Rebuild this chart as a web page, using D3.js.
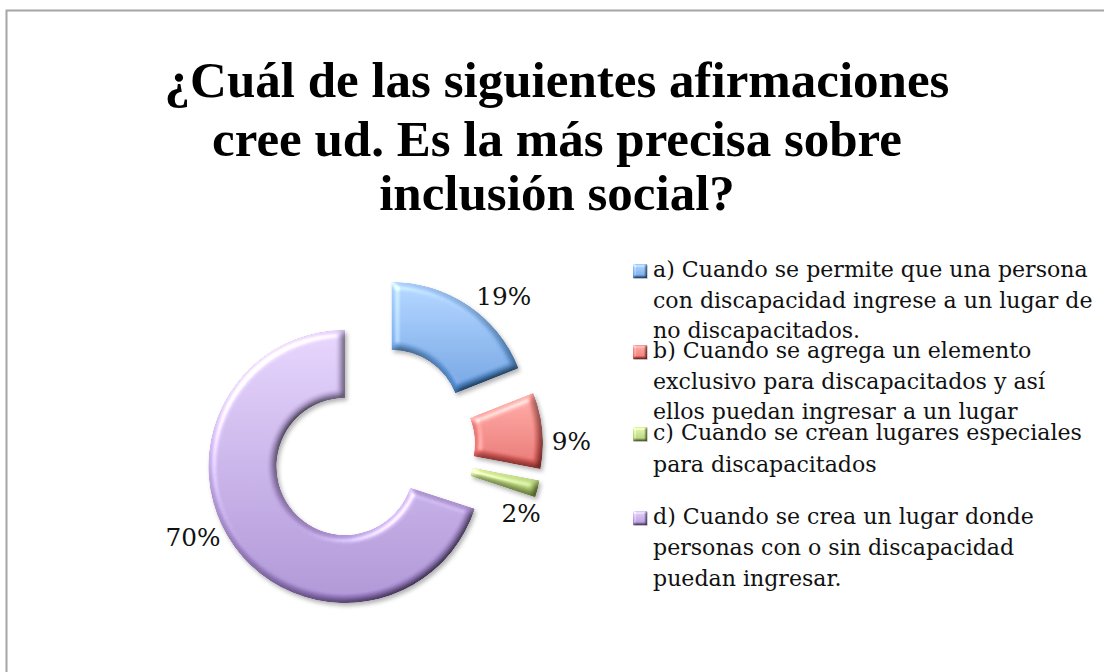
<!DOCTYPE html>
<html>
<head>
<meta charset="utf-8">
<script src="https://cdn.jsdelivr.net/npm/d3@7"></script>
<style>
  html, body { margin: 0; padding: 0; background: #fff; }
  svg { display: block; }
  .title { font-family: "Liberation Serif", serif; font-weight: bold; fill: #000; }
  .legend-text, .pct { font-family: "DejaVu Serif", serif; fill: #111; }
</style>
</head>
<body>
<div id="chart"></div>
<script>
// data
const titleLines = [
  "¿Cuál de las siguientes afirmaciones",
  "cree ud. Es la más precisa sobre",
  "inclusión social?"
];
const values = [19, 9, 2, 70];
const pctLabels = ["19%", "9%", "2%", "70%"];
const legendLines = [
  ["a) Cuando se permite que una persona", "con discapacidad ingrese a un lugar de", "no discapacitados."],
  ["b) Cuando se agrega un elemento", "exclusivo para discapacitados y así", "ellos puedan ingresar a un lugar"],
  ["c) Cuando se crean lugares especiales", "para discapacitados"],
  ["d) Cuando se crea un lugar donde", "personas con o sin discapacidad", "puedan ingresar."]
];
const colorTop = ["#a3c9f6", "#f49a95", "#dbee9f", "#d8c6f1"];
const colorBottom = ["#4e8dd3", "#d9534f", "#9bbb59", "#9a7cc6"];

// layout
const width = 1104, height = 672;
const center = { x: 372.5, y: 446.5 };
const outerR = 136.5, innerR = 68.5, explode = 34;
// label placement: [angle in degrees, radius] around the chart center
const labelPlace = [[41.3, 199], [88.7, 199], [114.2, 163], [243.2, 201]];
const legendX = 633, legendTextX = 653, legendLineWidth = 435;
const legendBaselines = [[277, 308, 338], [358, 389, 419], [440, 472], [524, 555, 586]];
const titleBaselines = [97, 156, 210];

const svg = d3.select("#chart").append("svg")
  .attr("width", width).attr("height", height);

const defs = svg.append("defs");

// bevel + shadow filter
function bevelFilter(id, blur, scale, shadow) {
  const f = defs.append("filter").attr("id", id)
    .attr("x", "-20%").attr("y", "-20%").attr("width", "140%").attr("height", "140%");
  f.append("feGaussianBlur").attr("in", "SourceAlpha").attr("stdDeviation", blur).attr("result", "blur");
  f.append("feDiffuseLighting").attr("in", "blur").attr("surfaceScale", scale)
    .attr("diffuseConstant", 1).attr("lighting-color", "#fff").attr("result", "diff")
    .append("feDistantLight").attr("azimuth", 225).attr("elevation", 55);
  f.append("feComposite").attr("in", "SourceGraphic").attr("in2", "diff")
    .attr("operator", "arithmetic").attr("k1", 1.22).attr("k2", 0).attr("k3", 0).attr("k4", 0)
    .attr("result", "shaded");
  f.append("feSpecularLighting").attr("in", "blur").attr("surfaceScale", scale)
    .attr("specularConstant", 0.55).attr("specularExponent", 16).attr("lighting-color", "#fff")
    .attr("result", "spec")
    .append("feDistantLight").attr("azimuth", 225).attr("elevation", 40);
  f.append("feComposite").attr("in", "spec").attr("in2", "SourceAlpha").attr("operator", "in").attr("result", "specIn");
  f.append("feComposite").attr("in", "shaded").attr("in2", "specIn")
    .attr("operator", "arithmetic").attr("k1", 0).attr("k2", 1).attr("k3", 1).attr("k4", 0)
    .attr("result", "lit");
  f.append("feComposite").attr("in", "lit").attr("in2", "SourceAlpha").attr("operator", "in").attr("result", "litIn");
  f.append("feDropShadow").attr("in", "litIn").attr("dx", shadow).attr("dy", shadow * 1.4)
    .attr("stdDeviation", shadow).attr("flood-color", "#000").attr("flood-opacity", 0.3);
}
bevelFilter("bevel", 3.5, 5, 2);
bevelFilter("bevelSmall", 1, 2, 0.6);

values.forEach((v, i) => {
  const g = defs.append("linearGradient").attr("id", "grad" + i)
    .attr("x1", 0).attr("y1", 0).attr("x2", 0).attr("y2", 1);
  g.append("stop").attr("offset", "0%").attr("stop-color", colorTop[i]);
  g.append("stop").attr("offset", "100%").attr("stop-color", colorBottom[i]);
});

// frame
svg.append("path")
  .attr("d", `M6.5,${height} V10.5 H${width}`)
  .attr("fill", "none").attr("stroke", "#a6a6a6").attr("stroke-width", 2);

// title
svg.selectAll(".title").data(titleLines).enter().append("text")
  .attr("class", "title")
  .attr("x", 557)
  .attr("y", (d, i) => titleBaselines[i])
  .attr("text-anchor", "middle")
  .style("font-size", "51px")
  .text(d => d);

// doughnut
const pie = d3.pie().sort(null).value(d => d);
const arc = d3.arc().innerRadius(innerR).outerRadius(outerR);
const arcs = pie(values);

svg.append("g").selectAll("path").data(arcs).enter().append("path")
  .attr("transform", d => {
    const a = (d.startAngle + d.endAngle) / 2;
    return `translate(${center.x + Math.sin(a) * explode},${center.y - Math.cos(a) * explode})`;
  })
  .attr("d", arc)
  .attr("fill", (d, i) => `url(#grad${i})`)
  .attr("filter", "url(#bevel)");

// legend
const legend = svg.append("g");
legendLines.forEach((lines, i) => {
  legend.append("rect")
    .attr("x", legendX).attr("y", legendBaselines[i][0] - 13)
    .attr("width", 14).attr("height", 14)
    .attr("fill", `url(#grad${i})`)
    .attr("filter", "url(#bevelSmall)");
  legend.selectAll(null).data(lines).enter().append("text")
    .attr("class", "legend-text")
    .attr("x", legendTextX)
    .attr("y", (d, j) => legendBaselines[i][j])
    .text(d => d);
});

// fit legend font so the first line spans the same width as in the original
const legendTexts = legend.selectAll(".legend-text").style("font-size", "20px");
const w0 = legendTexts.node().getComputedTextLength();
const legendSize = 20 * legendLineWidth / w0;
legendTexts.style("font-size", legendSize + "px");

// percentage labels
svg.selectAll(".pct").data(pctLabels).enter().append("text")
  .attr("class", "pct")
  .attr("x", (d, i) => center.x + Math.sin(labelPlace[i][0] * Math.PI / 180) * labelPlace[i][1])
  .attr("y", (d, i) => center.y - Math.cos(labelPlace[i][0] * Math.PI / 180) * labelPlace[i][1])
  .attr("text-anchor", "middle")
  .attr("dominant-baseline", "central")
  .style("font-size", (legendSize * 1.12) + "px")
  .text(d => d);
</script>
</body>
</html>
